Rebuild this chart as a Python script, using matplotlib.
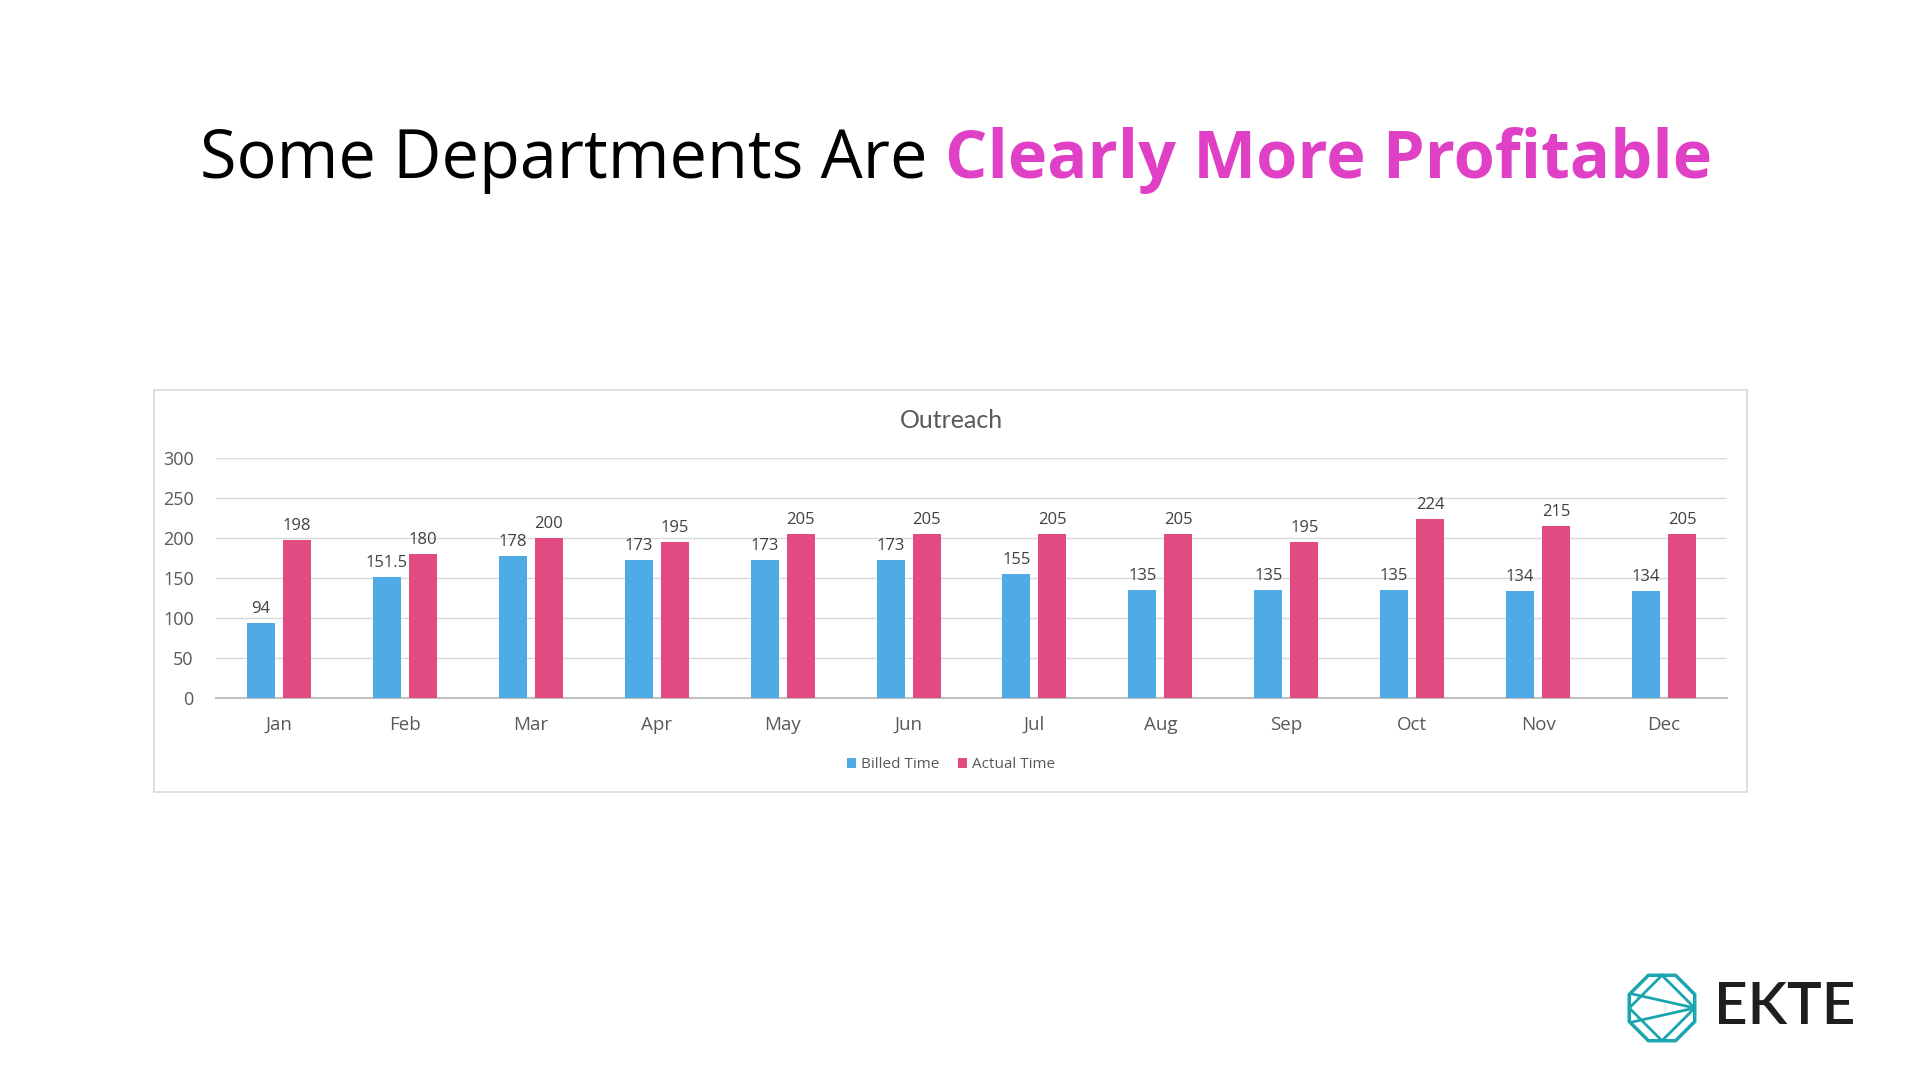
import matplotlib
matplotlib.use('Agg')
import matplotlib.pyplot as plt
from matplotlib.patches import Rectangle, Polygon
import numpy as np

months = ['Jan', 'Feb', 'Mar', 'Apr', 'May', 'Jun', 'Jul', 'Aug', 'Sep', 'Oct', 'Nov', 'Dec']
billed = [94, 151.5, 178, 173, 173, 173, 155, 135, 135, 135, 134, 134]
actual = [198, 180, 200, 195, 205, 205, 205, 205, 195, 224, 215, 205]
yticks = [0, 50, 100, 150, 200, 250, 300]

W, H = 1920, 1080
fig = plt.figure(figsize=(19.2, 10.8), dpi=100)
fig.patch.set_facecolor('white')

# slide title: two colours on one line
t1 = 'Some Departments Are '
t2 = 'Clearly More Profitable'
y_title = 1 - 160 / H
a = fig.text(0, y_title, t1, fontsize=48, family='Open Sans', color='black', va='center')
b = fig.text(0, y_title, t2, fontsize=48, family='Open Sans', weight='bold', color='#E040C6', va='center')
fig.canvas.draw()
r = fig.canvas.get_renderer()
w1 = a.get_window_extent(r).width
w2 = b.get_window_extent(r).width
x0 = 956 - (w1 + w2) / 2
a.set_x(x0 / W)
b.set_x((x0 + w1) / W)

# chart frame
fig.patches.append(Rectangle((154 / W, 1 - 792 / H), (1747 - 154) / W, (792 - 390) / H,
                             transform=fig.transFigure, fill=False, edgecolor='#D9D9D9', lw=1.2))

ax = fig.add_axes([216 / W, 1 - 698 / H, 1511 / W, 240 / H])
x = np.arange(len(months))
bw = 0.222
off = 0.143
b1 = ax.bar(x - off, billed, width=bw, color='#4FABE5', label='Billed Time', zorder=3)
b2 = ax.bar(x + off, actual, width=bw, color='#E24A82', label='Actual Time', zorder=3)
ax.bar_label(b1, labels=[f'{v:g}' for v in billed], padding=4, fontsize=12, color='#404040', family='Open Sans')
ax.bar_label(b2, labels=[f'{v:g}' for v in actual], padding=4, fontsize=12, color='#404040', family='Open Sans')

ax.set_xlim(-0.5, len(months) - 0.5)
ax.set_ylim(0, 300)
ax.set_yticks(yticks)
ax.set_xticks(x)
ax.set_xticklabels(months)
ax.tick_params(axis='y', length=0, pad=16, labelsize=13, labelcolor='#595959')
ax.tick_params(axis='x', length=0, pad=13, labelsize=13.5, labelcolor='#595959')
for lbl in ax.get_xticklabels() + ax.get_yticklabels():
    lbl.set_family('Open Sans')
ax.grid(axis='y', color='#D9D9D9', lw=1, zorder=0)
for s in ['top', 'right', 'left']:
    ax.spines[s].set_visible(False)
ax.spines['bottom'].set_color('#BFBFBF')
ax.spines['bottom'].set_linewidth(1.5)

fig.text(951 / W, 1 - 420 / H, 'Outreach', fontsize=18, color='#595959', family='Lato',
         ha='center', va='center')

fig.legend(handles=[b1, b2], loc='center', bbox_to_anchor=(951 / W, 1 - 765 / H), ncol=2,
           frameon=False, labelcolor='#595959', handlelength=0.6, handleheight=0.6,
           handletextpad=0.3, columnspacing=1.2, prop={'family': 'Open Sans', 'size': 11})

# logo
lax = fig.add_axes([1626 / W, 1 - 1044 / H, 72 / W, 72 / H])
lax.set_xlim(-0.05, 1.05)
lax.set_ylim(-0.05, 1.05)
lax.axis('off')
teal = '#1AA6B0'
ang = np.deg2rad(22.5 + 45 * np.arange(8))
rad = 0.5 / np.cos(np.deg2rad(22.5))
oct_pts = np.c_[0.5 + rad * np.cos(ang), 0.5 + rad * np.sin(ang)]
lax.add_patch(Polygon(oct_pts, closed=True, fill=False, edgecolor=teal, lw=2.5))
lax.plot([0.5, 1, 0.5, 0, 0.5], [1, 0.5, 0, 0.5, 1], color=teal, lw=2)
lax.plot([0.02, 1], [0.72, 0.5], color=teal, lw=2)
lax.plot([0.02, 1], [0.28, 0.5], color=teal, lw=2)
fig.text(1714 / W, 1 - 1007 / H, 'EKTE', fontsize=42, color='#1E1E1E', family='Lato',
         weight='semibold', va='center', ha='left')

fig.savefig('out.png', dpi=100)
